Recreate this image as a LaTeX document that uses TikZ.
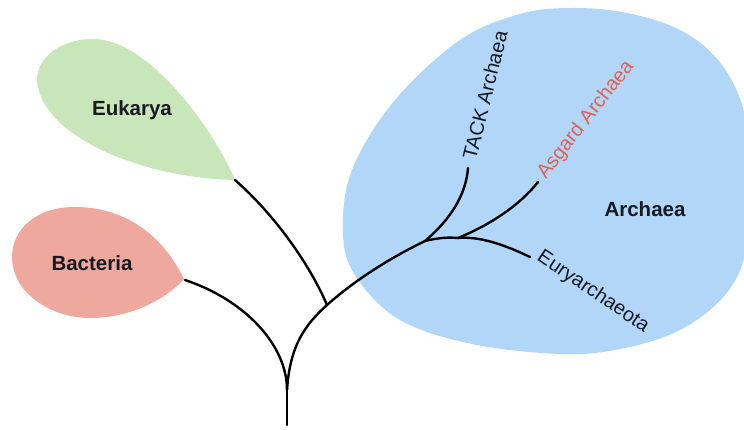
\documentclass[tikz,border=0pt]{standalone}
\usepackage{fontspec}
\setmainfont{Liberation Sans}
\definecolor{archblue}{RGB}{178,214,247}
\definecolor{eukgreen}{RGB}{201,230,186}
\definecolor{bacred}{RGB}{238,168,158}
\definecolor{asgardred}{RGB}{224,96,90}
\definecolor{inkc}{RGB}{24,26,34}
\begin{document}
\begin{tikzpicture}[x=1pt,y=-1pt,
  branch/.style={line width=2.4pt, line cap=round, draw=black},
  biglabel/.style={font=\fontsize{20.5}{24}\selectfont\bfseries, text=inkc, inner sep=0pt},
  smalllabel/.style={font=\fontsize{20}{24}\selectfont, text=inkc, inner sep=0pt}]
\useasboundingbox (0,0) rectangle (744,429);
% Archaea blob
\begin{scope}
\clip (0,0) rectangle (744,429);
\fill[archblue] plot[smooth cycle, tension=0.6] coordinates {
  (520,14) (572,8) (627,13) (680,30) (718,60) (742,105) (752,170) (746,250)
  (725,295) (680,330) (620,349) (560,354) (472,344) (400,320) (357,278)
  (343,235) (352,170) (395,100) (460,40)};
\end{scope}
% Eukarya drop
\fill[eukgreen] (235,180) .. controls (215,132) and (150,39) .. (93,39)
  .. controls (60,39) and (37,58) .. (37,80)
  .. controls (40,135) and (140,178) .. (235,180) -- cycle;
% Bacteria drop
\fill[bacred] (184,279) .. controls (160,230) and (120,207) .. (75,207)
  .. controls (35,207) and (12,230) .. (12,257)
  .. controls (12,292) and (50,318) .. (90,318)
  .. controls (130,318) and (165,300) .. (184,279) -- cycle;
% tree coordinates
\coordinate (root) at (287,425);
\coordinate (fork) at (287,390);
\coordinate (bac) at (185,280);
\coordinate (euk) at (235,180);
\coordinate (j0) at (327,305);
\coordinate (j1) at (425,241);
\coordinate (j2) at (458,238);
\coordinate (tack) at (468,168);
\coordinate (asg) at (538,182);
\coordinate (eury) at (530,257);
% branches
\draw[branch] (root) -- (fork);
\draw[branch] (fork) .. controls (287,345) and (245,300) .. (bac);
\draw[branch] (fork) .. controls (290,345) and (305,325) .. (j0)
  .. controls (355,280) and (390,258) .. (j1);
\draw[branch] (euk) .. controls (275,215) and (310,265) .. (j0);
\draw[branch] (j1) .. controls (450,220) and (466,195) .. (tack);
\draw[branch] (j1) .. controls (437,238) and (448,237) .. (j2);
\draw[branch] (j2) .. controls (490,225) and (520,205) .. (asg);
\draw[branch] (j2) .. controls (480,236) and (505,245) .. (eury);
% labels
\node[biglabel] (leuk) at (132,110) {Eukarya};
\node[biglabel] (lbac) at (92,263) {Bacteria};
\node[biglabel] (larch) at (645,209) {Archaea};
\node[smalllabel, rotate=76] (ltack) at (485,95) {TACK Archaea};
\node[smalllabel, rotate=52, text=asgardred] (lasg) at (586,120) {Asgard Archaea};
\node[smalllabel, rotate=-34] (leury) at (593,292) {Euryarchaeota};
\end{tikzpicture}
\end{document}
